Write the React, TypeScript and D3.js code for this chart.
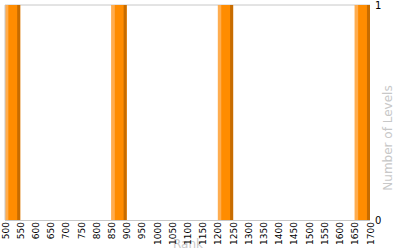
import React from "react";
import * as d3 from "d3";

const binStarts = [500, 850, 1200, 1650];
const binWidth = 50;
const levelCounts = [1, 1, 1, 1];
const xTicks = d3.range(500, 1701, 50);
const yTicks = [0, 1];

export default function App() {
  const W = 400, H = 250;
  const left = 5, right = 370, top = 5, bottom = 220;
  const x = d3.scaleLinear().domain([500, 1700]).range([left, right]);
  const y = d3.scaleLinear().domain([0, 1]).range([bottom, top]);
  const font = "Verdana, 'DejaVu Sans', sans-serif";
  return (
    <svg width={W} height={H} style={{ position: "absolute", left: 0, top: 0 }}>
      <rect x={0} y={0} width={W} height={H} fill="#fff" />
      <line x1={left} x2={right} y1={y(1)} y2={y(1)} stroke="#c8c8c8" strokeWidth={1} />
      {binStarts.map((s, i) => {
        const x0 = x(s);
        const x1 = x(s + binWidth);
        const w = x1 - x0;
        const yt = y(levelCounts[i]);
        const h = bottom - yt;
        return (
          <g key={s}>
            <rect x={x0} y={yt} width={w} height={h} fill="#ff8c00" />
            <rect x={x0} y={yt} width={w * 0.22} height={h} fill="#ffad4f" />
            <rect x={x1 - w * 0.2} y={yt} width={w * 0.2} height={h} fill="#c76c00" />
          </g>
        );
      })}
      <line x1={left} x2={left} y1={top} y2={bottom} stroke="#c8c8c8" />
      <line x1={left} x2={right} y1={bottom + 0.5} y2={bottom + 0.5} stroke="#c8c8c8" />
      <text x={188} y={248} textAnchor="middle" fontFamily={font} fontSize={12} fill="#c8c8c8">
        Rank
      </text>
      {xTicks.map((t) => (
        <text
          key={t}
          transform={`translate(${x(t) + 3.5},${bottom + 2}) rotate(-90)`}
          textAnchor="end"
          fontFamily={font}
          fontSize={9}
          fill="#000"
        >
          {t}
        </text>
      ))}
      {yTicks.map((t) => (
        <text key={t} x={right + 5} y={y(t) + 4} fontFamily={font} fontSize={10} fill="#000">
          {t}
        </text>
      ))}
      <text
        transform={`translate(392,138) rotate(-90)`}
        textAnchor="middle"
        fontFamily={font}
        fontSize={12}
        fill="#c8c8c8"
      >
        Number of Levels
      </text>
    </svg>
  );
}
